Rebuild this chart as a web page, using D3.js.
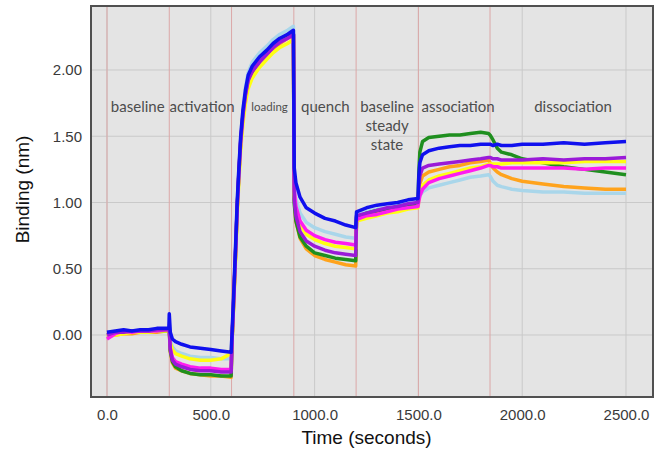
<!DOCTYPE html>
<html>
<head>
<meta charset="utf-8">
<script src="https://cdn.jsdelivr.net/npm/d3@7"></script>
<style>
  body { margin: 0; background: #fff; }
  svg { display: block; }
</style>
</head>
<body>
<svg width="668" height="454"></svg>
<script>
// sample times (seconds), shared by every sensor trace
const times = [
  0, 40, 80, 120, 160, 200, 240, 280, 298,
  300, 305, 315, 330, 360, 400, 450, 500, 550, 598,
  602, 610, 620, 627, 635, 644, 655, 667, 680, 700, 735, 770, 800, 833, 870, 898,
  902, 910, 930, 960, 1000, 1050, 1100, 1150, 1198,
  1202, 1250, 1300, 1350, 1400, 1450, 1498,
  1502, 1507, 1520, 1550, 1600, 1650, 1700, 1750, 1800, 1838,
  1845, 1860, 1880, 1900, 1950, 2000, 2100, 2200, 2300, 2400, 2500
];

// binding (nm) per trace
const lightblue = [
  0.01, 0.02, 0.03, 0.03, 0.03, 0.04, 0.04, 0.04, 0.04,
  0.08, -0.04, -0.09, -0.12, -0.14, -0.16, -0.17, -0.17, -0.18, -0.18,
  -0.02, 0.28, 0.68, 0.98, 1.24, 1.5, 1.71, 1.87, 1.98, 2.06, 2.13, 2.18, 2.23, 2.27, 2.3, 2.33,
  1.15, 1.03, 0.92, 0.85, 0.81, 0.78, 0.76, 0.74, 0.73,
  0.9, 0.93, 0.95, 0.96, 0.98, 0.99, 1.0,
  1.02, 1.05, 1.08, 1.11, 1.13, 1.15, 1.17, 1.19, 1.2, 1.21,
  1.2, 1.16, 1.13, 1.12, 1.1, 1.09, 1.08, 1.08, 1.07, 1.07, 1.07
];
const orange = [
  -0.01, 0.0, 0.01, 0.01, 0.02, 0.02, 0.02, 0.03, 0.03,
  0.04, -0.13, -0.21, -0.25, -0.27, -0.29, -0.3, -0.31, -0.31, -0.32,
  -0.06, 0.23, 0.63, 0.94, 1.2, 1.45, 1.65, 1.8, 1.91, 1.98, 2.06, 2.11, 2.16, 2.2, 2.24, 2.26,
  1.04, 0.86, 0.73, 0.65, 0.6, 0.57, 0.55, 0.53, 0.52,
  0.88, 0.91, 0.93, 0.94, 0.96, 0.97, 0.98,
  1.06, 1.14, 1.2, 1.23, 1.25, 1.27, 1.28, 1.3, 1.31, 1.32,
  1.3, 1.26, 1.23, 1.21, 1.18, 1.16, 1.14, 1.12, 1.11, 1.1, 1.1
];
const green = [
  0.0, 0.01, 0.02, 0.02, 0.02, 0.03, 0.03, 0.03, 0.03,
  0.04, -0.12, -0.2, -0.24, -0.27, -0.29, -0.3, -0.3, -0.31, -0.31,
  -0.06, 0.24, 0.64, 0.95, 1.2, 1.45, 1.66, 1.81, 1.92, 1.99, 2.07, 2.12, 2.17, 2.21, 2.25, 2.27,
  0.99, 0.86, 0.74, 0.67, 0.62, 0.6, 0.58, 0.57, 0.56,
  0.89, 0.92, 0.94, 0.95, 0.97, 0.98, 0.99,
  1.22, 1.38, 1.46, 1.49, 1.5, 1.51, 1.51, 1.52, 1.53, 1.52,
  1.51, 1.47, 1.41, 1.38, 1.36, 1.33, 1.3, 1.27, 1.25, 1.23, 1.21
];
const yellow = [
  -0.01, 0.0, 0.01, 0.02, 0.02, 0.02, 0.03, 0.03, 0.03,
  0.06, -0.06, -0.11, -0.14, -0.16, -0.18, -0.19, -0.19, -0.18, -0.14,
  -0.05, 0.22, 0.6, 0.9, 1.15, 1.4, 1.6, 1.75, 1.86, 1.94, 2.02, 2.08, 2.13, 2.17, 2.2, 2.23,
  1.06, 0.94, 0.83, 0.76, 0.72, 0.69, 0.67, 0.66, 0.65,
  0.86, 0.88, 0.9, 0.92, 0.93, 0.95, 0.96,
  1.02, 1.08, 1.13, 1.17, 1.2, 1.22, 1.24, 1.26, 1.27, 1.29,
  1.29, 1.29, 1.29, 1.29, 1.3, 1.3, 1.3, 1.3, 1.31, 1.31, 1.31
];
const magenta = [
  -0.03, 0.01, 0.03, 0.02, 0.03, 0.03, 0.03, 0.04, 0.04,
  0.05, -0.1, -0.17, -0.2, -0.22, -0.24, -0.25, -0.25, -0.26, -0.26,
  -0.04, 0.26, 0.66, 0.96, 1.22, 1.47, 1.67, 1.82, 1.93, 2.0, 2.07, 2.12, 2.17, 2.21, 2.24, 2.27,
  1.1, 0.97, 0.86, 0.79, 0.75, 0.72, 0.7, 0.69, 0.68,
  0.87, 0.9, 0.91, 0.93, 0.95, 0.96, 0.97,
  1.01, 1.05, 1.1, 1.15, 1.18, 1.2, 1.22, 1.24, 1.26, 1.28,
  1.28, 1.27, 1.27, 1.26, 1.26, 1.26, 1.26, 1.26, 1.25, 1.26, 1.26
];
const purple = [
  0.0, 0.02, 0.02, 0.03, 0.03, 0.03, 0.04, 0.04, 0.04,
  0.05, -0.11, -0.19, -0.22, -0.24, -0.26, -0.27, -0.27, -0.28, -0.28,
  -0.05, 0.25, 0.65, 0.95, 1.21, 1.46, 1.66, 1.81, 1.92, 1.99, 2.06, 2.12, 2.17, 2.21, 2.24, 2.27,
  1.02, 0.9, 0.78, 0.71, 0.67, 0.64, 0.62, 0.61, 0.6,
  0.9, 0.92, 0.94, 0.96, 0.97, 0.99, 1.0,
  1.1, 1.2, 1.26, 1.28, 1.29, 1.3, 1.31, 1.32, 1.33, 1.34,
  1.34, 1.33, 1.33, 1.32, 1.32, 1.32, 1.33, 1.32, 1.33, 1.33, 1.34
];
const blue = [
  0.02, 0.03, 0.04, 0.03, 0.04, 0.04, 0.05, 0.05, 0.05,
  0.16, 0.02, -0.03, -0.05, -0.07, -0.09, -0.1, -0.11, -0.12, -0.13,
  0.0, 0.3, 0.7, 1.0, 1.25, 1.5, 1.7, 1.85, 1.96, 2.03, 2.1, 2.15, 2.2, 2.24, 2.27, 2.3,
  1.26, 1.15, 1.04, 0.96, 0.92, 0.88, 0.86, 0.83, 0.81,
  0.93, 0.96, 0.98, 0.99, 1.0, 1.02, 1.03,
  1.2, 1.3, 1.36, 1.39, 1.41, 1.42, 1.43, 1.43, 1.44, 1.44,
  1.44, 1.43, 1.44, 1.43, 1.43, 1.44, 1.44, 1.45, 1.44, 1.45, 1.46
];

// drawing order: first is at the bottom
const seriesNames = ["lightblue", "orange", "green", "yellow", "magenta", "purple", "blue"];
const seriesValues = [lightblue, orange, green, yellow, magenta, purple, blue];
const seriesColors = ["#a9d6ea", "#ffa31c", "#1f8f1f", "#ffff12", "#ff1cf0", "#9a1ad8", "#1010ee"];

const phaseBoundaries = [0, 300, 600, 900, 1200, 1500, 1845];
// phase labels: [text lines, centre time, font size]
const phaseLabels = [
  [["baseline"], 148, 15],
  [["activation"], 458, 15],
  [["loading"], 783, 11.5],
  [["quench"], 1052, 15],
  [["baseline", "steady", "state"], 1349, 15],
  [["association"], 1691, 15],
  [["dissociation"], 2245, 15]
];

const xTicks = [0, 500, 1000, 1500, 2000, 2500];
const yTicks = [0, 0.5, 1.0, 1.5, 2.0];

const svg = d3.select("svg");
const plotL = 91, plotR = 653, plotT = 6, plotB = 397;

const x = d3.scaleLinear().domain([-77, 2630]).range([plotL, plotR]);
const y = d3.scaleLinear().domain([-0.468, 2.483]).range([plotB, plotT]);

svg.append("rect")
  .attr("x", plotL).attr("y", plotT)
  .attr("width", plotR - plotL).attr("height", plotB - plotT)
  .attr("fill", "#e4e4e4");

// grid
svg.append("g").selectAll("line").data(xTicks).join("line")
  .attr("x1", d => x(d)).attr("x2", d => x(d))
  .attr("y1", plotT).attr("y2", plotB)
  .attr("stroke", "#c9c9c9").attr("stroke-width", 1);
svg.append("g").selectAll("line").data(yTicks).join("line")
  .attr("x1", plotL).attr("x2", plotR)
  .attr("y1", d => y(d)).attr("y2", d => y(d))
  .attr("stroke", "#c9c9c9").attr("stroke-width", 1);

// phase boundaries
svg.append("g").selectAll("line").data(phaseBoundaries).join("line")
  .attr("x1", d => x(d)).attr("x2", d => x(d))
  .attr("y1", plotT).attr("y2", plotB)
  .attr("stroke", "#dba7a7").attr("stroke-width", 1);

// labels for each phase
const labelG = svg.append("g")
  .attr("font-family", "Lato, 'Open Sans', sans-serif")
  .attr("fill", "#4d4d4d")
  .attr("text-anchor", "middle");
phaseLabels.forEach(([lines, t, size]) => {
  lines.forEach((txt, i) => {
    labelG.append("text")
      .attr("x", x(t))
      .attr("y", y(1.72) + i * 19)
      .attr("dy", "0.35em")
      .attr("font-size", size)
      .text(txt);
  });
});

// traces
const line = d3.line()
  .x((d, i) => x(times[i]))
  .y(d => y(d));
svg.append("g").selectAll("path").data(seriesValues).join("path")
  .attr("d", d => line(d))
  .attr("fill", "none")
  .attr("stroke", (d, i) => seriesColors[i])
  .attr("stroke-width", 3.5)
  .attr("stroke-linejoin", "round");

// frame
svg.append("rect")
  .attr("x", plotL).attr("y", plotT)
  .attr("width", plotR - plotL).attr("height", plotB - plotT)
  .attr("fill", "none")
  .attr("stroke", "#505050").attr("stroke-width", 2);

// axes (labels only, no tick marks)
const xAxis = svg.append("g")
  .attr("transform", `translate(0,${plotB})`)
  .call(d3.axisBottom(x).tickValues(xTicks).tickFormat(d3.format(".1f")).tickSize(0).tickPadding(12));
const yAxis = svg.append("g")
  .attr("transform", `translate(${plotL},0)`)
  .call(d3.axisLeft(y).tickValues(yTicks).tickFormat(d3.format(".2f")).tickSize(0).tickPadding(9));
[xAxis, yAxis].forEach(a => {
  a.select(".domain").remove();
  a.selectAll("text")
    .attr("font-family", "'Liberation Sans', Arial, sans-serif")
    .attr("font-size", 15)
    .attr("fill", "#3a3a3a");
});

svg.append("text")
  .attr("x", x(1250)).attr("y", 444)
  .attr("text-anchor", "middle")
  .attr("font-family", "'Liberation Sans', Arial, sans-serif")
  .attr("font-size", 19)
  .attr("fill", "#111")
  .text("Time (seconds)");

svg.append("text")
  .attr("transform", `translate(29,${(plotT + plotB) / 2 - 12}) rotate(-90)`)
  .attr("text-anchor", "middle")
  .attr("font-family", "'Liberation Sans', Arial, sans-serif")
  .attr("font-size", 19)
  .attr("fill", "#111")
  .text("Binding (nm)");
</script>
</body>
</html>
